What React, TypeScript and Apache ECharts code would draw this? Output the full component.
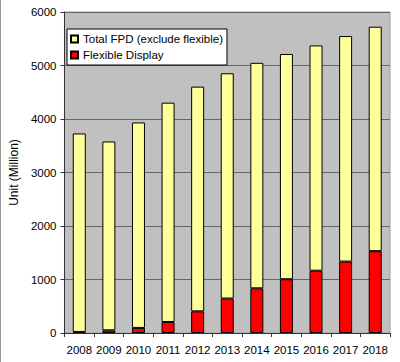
import React, { useEffect, useRef } from "react";
import * as echarts from "echarts";

const years = ["2008", "2009", "2010", "2011", "2012", "2013", "2014", "2015", "2016", "2017", "2018"];
const flexible = [20, 50, 95, 205, 405, 645, 835, 1005, 1165, 1335, 1530];
const totalFpdExcl = [3710, 3530, 3840, 4100, 4200, 4210, 4215, 4210, 4210, 4215, 4195];
const yTicks = { min: 0, max: 6000, interval: 1000 };

const FONT = "'Liberation Sans', Arial, sans-serif";
const FS = 11.5;

export default function App() {
  const ref = useRef<HTMLDivElement>(null);
  useEffect(() => {
    if (!ref.current) return;
    const chart = echarts.init(ref.current, null, { renderer: "svg" });
    chart.setOption({
      animation: false,
      backgroundColor: "#ffffff",
      textStyle: { fontFamily: FONT },
      grid: {
        left: 57,
        right: 10,
        top: 12,
        bottom: 29,
        show: true,
        backgroundColor: "#c0c0c0",
        borderColor: "#a0a0a0",
        borderWidth: 1,
      },
      legend: {
        orient: "vertical",
        left: 67,
        top: 29,
        backgroundColor: "#ffffff",
        borderColor: "#000000",
        borderWidth: 1,
        borderRadius: 0,
        padding: [4, 4, 4, 3],
        itemGap: 4,
        itemWidth: 7,
        itemHeight: 7,
        icon: "rect",
        textStyle: { fontFamily: FONT, fontSize: FS, color: "#000", lineHeight: 12 },
        data: ["Total FPD (exclude flexible)", "Flexible Display"],
      },
      xAxis: {
        type: "category",
        data: years,
        boundaryGap: true,
        axisLine: { show: true, lineStyle: { color: "#333", width: 1 } },
        axisTick: { show: true, length: 4, interval: 0, lineStyle: { color: "#333" } },
        axisLabel: { fontFamily: FONT, fontSize: FS, color: "#000", margin: 11, interval: 0 },
      },
      yAxis: {
        type: "value",
        min: yTicks.min,
        max: yTicks.max,
        interval: yTicks.interval,
        name: "Unit (Million)",
        nameLocation: "middle",
        nameGap: 42,
        nameTextStyle: { fontFamily: FONT, fontSize: 12, color: "#000" },
        axisLine: { show: true, lineStyle: { color: "#333", width: 1 } },
        axisTick: { show: true, length: 4, lineStyle: { color: "#333" } },
        axisLabel: {
          fontFamily: FONT,
          fontSize: FS,
          color: "#000",
          margin: 8,
          formatter: (v: number) => String(v),
        },
        splitLine: { show: true, lineStyle: { color: "#666", width: 1 } },
      },
      series: [
        {
          name: "Flexible Display",
          type: "bar",
          stack: "fpd",
          barWidth: 13,
          data: flexible,
          itemStyle: { color: "#ff0000", borderColor: "#000", borderWidth: 1 },
        },
        {
          name: "Total FPD (exclude flexible)",
          type: "bar",
          stack: "fpd",
          barWidth: 13,
          data: totalFpdExcl,
          itemStyle: { color: "#ffff99", borderColor: "#000", borderWidth: 1 },
        },
      ],
      graphic: [
        {
          type: "line",
          shape: { x1: 0.5, y1: 0, x2: 0.5, y2: 362 },
          style: { stroke: "#999", lineWidth: 1 },
        },
      ],
    });
    return () => chart.dispose();
  }, []);
  return (
    <div
      ref={ref}
      style={{ position: "fixed", left: 0, top: 0, width: 400, height: 362 }}
    />
  );
}
